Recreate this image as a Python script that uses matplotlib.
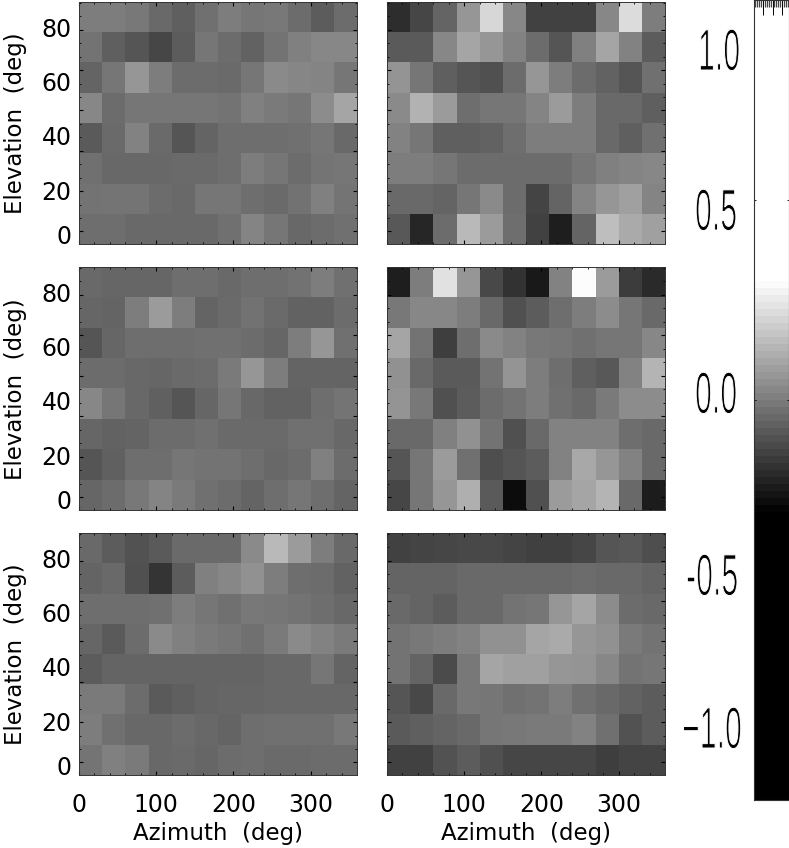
#!/usr/bin/env python3
import numpy as np
import matplotlib
matplotlib.use('Agg')
import matplotlib.pyplot as plt
import matplotlib.patheffects as pe
from matplotlib.ticker import MultipleLocator, NullFormatter
from matplotlib.transforms import Affine2D

W, H = 789, 848

# cell brightness, top row first (0 black, 255 white)
panel_a = [[125,125,120,105,95,112,125,118,120,108,92,108],
           [115,95,85,70,92,118,108,98,115,128,135,135],
           [100,118,150,125,108,108,106,118,138,134,132,118],
           [135,108,118,118,118,118,115,128,122,118,140,165],
           [90,106,130,106,85,100,110,110,110,112,118,105],
           [112,104,104,104,106,106,110,125,118,108,116,118],
           [115,116,116,108,105,118,118,110,106,114,128,116],
           [110,110,105,105,105,105,112,132,118,104,108,112]]
panel_b = [[45,70,100,150,215,135,65,65,65,135,220,125],
           [90,90,135,165,150,130,108,85,128,165,130,92],
           [148,118,95,85,80,108,150,125,108,98,85,112],
           [138,178,155,110,118,118,132,155,125,105,105,95],
           [130,118,95,95,98,110,125,125,125,105,95,112],
           [125,125,118,108,108,108,108,108,118,128,132,135],
           [105,105,100,118,138,108,68,100,132,150,160,132],
           [88,38,108,185,155,110,65,30,100,190,170,160]]
panel_c = [[105,102,102,102,110,110,105,110,110,114,125,112],
           [102,100,125,155,125,100,106,114,106,98,98,108],
           [85,102,110,110,110,112,112,108,102,125,150,112],
           [108,108,104,102,106,108,122,150,125,100,100,100],
           [135,118,104,96,85,102,118,104,98,98,110,116],
           [102,98,100,108,108,112,106,106,106,112,112,104],
           [85,96,110,110,118,115,115,110,104,108,128,108],
           [102,108,120,132,122,112,108,100,110,118,110,100]]
panel_d = [[30,125,225,150,72,50,25,130,252,155,60,42],
           [120,135,135,125,105,80,92,110,125,140,118,105],
           [165,115,62,110,138,130,120,118,112,118,118,135],
           [145,105,90,90,115,148,125,110,95,88,130,180],
           [148,120,80,92,108,115,125,112,105,122,140,140],
           [105,105,128,145,115,80,105,130,130,130,110,105],
           [85,118,155,112,78,85,92,130,168,150,130,105],
           [70,118,150,175,90,12,80,155,165,180,105,28]]
panel_e = [[105,92,82,90,106,106,106,138,185,155,125,105],
           [100,105,80,52,92,128,135,145,125,110,108,98],
           [110,110,110,112,125,118,112,120,118,115,110,104],
           [102,90,108,138,128,122,118,112,122,138,130,122],
           [92,100,100,100,100,100,100,100,104,104,118,100],
           [122,122,108,90,95,100,102,102,104,104,104,104],
           [125,112,104,104,108,104,100,110,112,112,112,120],
           [116,128,122,104,106,102,108,110,106,106,108,108]]
panel_f = [[65,68,70,72,72,68,64,64,70,85,88,78],
           [100,100,100,105,105,105,105,105,108,105,105,100],
           [105,100,92,105,105,115,118,150,165,140,108,105],
           [115,120,125,130,145,145,165,170,150,145,122,115],
           [115,100,75,120,165,160,160,150,148,135,115,118],
           [85,72,105,120,118,112,115,125,112,105,98,92],
           [90,95,100,105,118,120,122,122,130,112,82,92],
           [65,65,82,92,80,70,70,70,70,62,68,68]]

az_edges = np.arange(0, 361, 30)
el_edges = np.arange(-5, 92, 12)
el_labels = ['80', '60', '40', '20', '0']
cbar_labels = ['1.0', '0.5', '0.0', '-0.5', '\u22121.0']

# grey scale saturates well inside the colour bar range
VMIN, VMAX = -0.2825, 0.30


class SqueezeX(pe.AbstractPathEffect):
    """Narrows text horizontally and thins it, the bar labels are tall and thin."""

    def __init__(self, sx, erode, shift=0):
        super().__init__()
        self.sx = sx
        self.erode = erode
        self.shift = shift

    def draw_path(self, renderer, gc, tpath, affine, rgbFace=None):
        gc0 = renderer.new_gc()
        gc0.copy_properties(gc)
        gc0.set_foreground('white')
        gc0.set_linewidth(self.erode)
        trans = Affine2D().scale(self.sx, 1) + affine + Affine2D().translate(self.shift, 0)
        renderer.draw_path(gc0, tpath, trans, rgbFace)
        gc0.restore()


def px_axes(fig, x0, y0, x1, y1):
    return fig.add_axes([x0 / W, 1 - y1 / H, (x1 - x0) / W, (y1 - y0) / H])


def dibujar_panel(ax, grey, left, bottom):
    field = VMIN + np.array(grey, dtype=float)[::-1] / 255 * (VMAX - VMIN)
    ax.pcolormesh(az_edges, el_edges, field, cmap='gray', vmin=VMIN, vmax=VMAX)
    ax.set_xlim(0, 360)
    ax.set_ylim(-5, 91)
    ax.xaxis.set_major_locator(MultipleLocator(100))
    ax.xaxis.set_minor_locator(MultipleLocator(20))
    # elevation ticks do not line up with the printed labels in the original
    ax.yaxis.set_major_locator(MultipleLocator(16))
    ax.yaxis.set_minor_locator(MultipleLocator(16 / 3))
    ax.tick_params(which='major', direction='in', top=True, right=True, length=3, width=0.8,
                   labelsize=17, labelleft=False, labelbottom=bottom, pad=13)
    ax.tick_params(which='minor', direction='in', top=True, right=True, length=1.5, width=0.6)
    for s in ax.spines.values():
        s.set_linewidth(0.7)
        s.set_color('#333333')
    if left:
        ax.set_ylabel('Elevation  (deg)', fontsize=16.5, va='center')
        ax.yaxis.set_label_coords(-0.23, 0.498)
    if bottom:
        ax.set_xlabel('Azimuth  (deg)', fontsize=16.5, va='center')
        ax.xaxis.set_label_coords(0.5, -0.24)


fig = plt.figure(figsize=(W / 100, H / 100), dpi=100)

rows = [(2, 244), (267, 510), (533, 775)]
panels = [(panel_a, panel_b), (panel_c, panel_d), (panel_e, panel_f)]
el_label_offset = [28, 82, 136, 191, 235]  # pixels below the panel top
for r, ((y0, y1), (g_left, g_right)) in enumerate(zip(rows, panels)):
    dibujar_panel(px_axes(fig, 79, y0, 357, y1), g_left, True, r == 2)
    dibujar_panel(px_axes(fig, 387, y0, 665, y1), g_right, False, r == 2)
    for lab, off in zip(el_labels, el_label_offset):
        fig.text(71.5 / W, 1 - (y0 + off) / H, lab, fontsize=17, ha='right', va='center')

# colour bar, bands as in the original
cax = px_axes(fig, 753.5, 0, 788.5, 800)
cb_edges = np.linspace(-1, 1, 115)
cb_vals = ((cb_edges[:-1] + cb_edges[1:]) / 2).reshape(-1, 1)
cax.pcolormesh([0, 35], cb_edges, cb_vals, cmap='gray', vmin=VMIN, vmax=VMAX)
cax.set_xlim(0, 35)
cax.set_ylim(-1, 1)
cax.xaxis.set_major_locator(MultipleLocator(9.5))
cax.xaxis.set_minor_locator(MultipleLocator(1.9))
cax.xaxis.set_major_formatter(NullFormatter())
cax.yaxis.set_major_locator(MultipleLocator(0.5))
cax.yaxis.set_major_formatter(NullFormatter())
cax.tick_params(axis='x', which='major', direction='in', top=True, bottom=False, length=11, width=0.7)
cax.tick_params(axis='x', which='minor', direction='in', top=True, bottom=False, length=5, width=0.9, color='#444444')
cax.tick_params(axis='y', which='major', direction='in', left=True, right=True, length=1.5, width=0.6)
for s in cax.spines.values():
    s.set_linewidth(0.8)
    s.set_color('#333333')

# bar labels sit above their nominal level, positions in pixels
label_base = [70, 230, 413, 595, 748]
label_left = [698, 695, 695, 686, 670]
label_shift = [0, 0, 0, 0, 12]  # text box of the last one would leave the figure
for txt, yb, xl, dx in zip(cbar_labels, label_base, label_left, label_shift):
    fig.text(xl / W, 1 - yb / H, txt, fontsize=42, family='Liberation Sans',
             ha='left', va='baseline', path_effects=[SqueezeX(0.52, 0.7, dx)])

plt.savefig('out.png', dpi=100)
